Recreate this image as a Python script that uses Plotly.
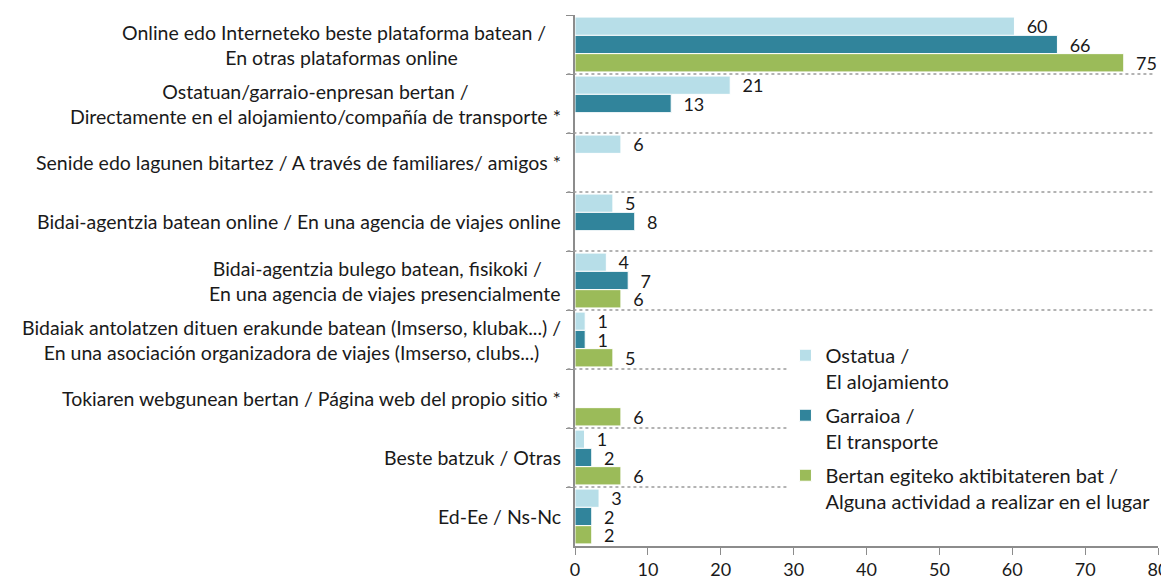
import plotly.graph_objects as go

# ---- data ----
label_lines = [
    ["Online edo Interneteko beste plataforma batean /\u00a0\u00a0\u00a0", "En otras plataformas online"],
    ["Ostatuan/garraio-enpresan bertan /", "Directamente en el alojamiento/compañía de transporte *"],
    ["Senide edo lagunen bitartez / A través de familiares/ amigos *"],
    ["Bidai-agentzia batean online / En una agencia de viajes online"],
    ["Bidai-agentzia bulego batean, fisikoki /\u00a0\u00a0\u00a0", "En una agencia de viajes presencialmente"],
    ["Bidaiak antolatzen dituen erakunde batean (Imserso, klubak...) /",
     "En una asociación organizadora de viajes (Imserso, clubs...)"],
    ["Tokiaren webgunean bertan / Página web del propio sitio *"],
    ["Beste batzuk / Otras"],
    ["Ed-Ee / Ns-Nc"],
]
categories = ["<br>".join(l) for l in label_lines]

series_names = [
    "Ostatua /<br>El alojamiento",
    "Garraioa /<br>El transporte",
    "Bertan egiteko aktibitateren bat /<br>Alguna actividad a realizar en el lugar",
]
ostatua = [60.3, 21.3, 6.3, 5.2, 4.3, 1.4, None, 1.3, 3.3]
garraioa = [66.2, 13.2, None, 8.2, 7.3, 1.4, None, 2.3, 2.3]
aktibitatea = [75.3, None, None, None, 6.3, 5.2, 6.3, 6.3, 2.3]
series_values = [ostatua, garraioa, aktibitatea]
colors = ["#B7DEE8", "#31849B", "#9BBB59"]

x_ticks = [0, 10, 20, 30, 40, 50, 60, 70, 80]

FONT = "Lato"
TXT = "#1a1a1a"

fig = go.Figure()
for name, vals, col in zip(series_names, series_values, colors):
    fig.add_trace(go.Bar(
        y=categories, x=vals, orientation="h", name=name,
        legendgroup=name,
        marker=dict(color=col, line=dict(color="white", width=1)),
        texttemplate="\u00a0\u00a0%{x:.0f}", textposition="outside",
        constraintext="none", cliponaxis=False,
        textfont=dict(family=FONT, size=18, color=TXT),
        hoverinfo="skip",
    ))

# category labels (centered multi-line, right edge near the axis)
annotations = []
for cat in categories:
    annotations.append(dict(
        x=0, xref="paper", y=cat, yref="y", xanchor="right", yanchor="middle",
        xshift=-12, text=cat, align="center", showarrow=False,
        font=dict(family=FONT, size=19.5, color=TXT),
    ))

# dotted separators between categories (the lower ones stop at the legend)
shapes = []
for i in range(len(categories) - 1):
    x_end = 0.995 if i < 5 else 0.364
    shapes.append(dict(
        type="line", xref="paper", yref="y", x0=-0.013, x1=x_end,
        y0=i + 0.5, y1=i + 0.5,
        line=dict(color="#9a9a9a", width=1.5, dash="dot"), layer="above",
    ))

# the page adds an 8px body margin: size the figure so it fills the window
fig.update_layout(
    width=1161, height=575, autosize=False,
    margin=dict(l=567, r=11, t=7, b=37, autoexpand=False),
    paper_bgcolor="white", plot_bgcolor="white",
    barmode="group", bargap=0.07, bargroupgap=0,
    font=dict(family=FONT, size=18, color=TXT),
    annotations=annotations, shapes=shapes,
    legend=dict(
        x=0.361, y=0.396, xanchor="left", yanchor="top",
        bgcolor="rgba(255,255,255,0)", font=dict(family=FONT, size=20, color=TXT),
        tracegroupgap=5, traceorder="grouped", valign="top",
    ),
    xaxis=dict(
        range=[0, 80], tickvals=x_ticks, ticks="outside", ticklen=7,
        ticklabelstandoff=0, automargin=False,
        tickcolor="#8c8c8c", showline=True, linecolor="#8c8c8c", linewidth=1.5,
        showgrid=False, zeroline=False, tickfont=dict(family=FONT, size=18, color=TXT),
        fixedrange=True,
    ),
    yaxis=dict(
        type="category", categoryorder="array", categoryarray=categories,
        autorange="reversed", tickson="boundaries", ticks="outside", ticklen=7,
        automargin=False,
        tickcolor="#8c8c8c", showline=True, linecolor="#8c8c8c", linewidth=1.5,
        showticklabels=False, showgrid=False, zeroline=False, fixedrange=True,
    ),
    showlegend=True,
)

fig.write_html("out.html")
